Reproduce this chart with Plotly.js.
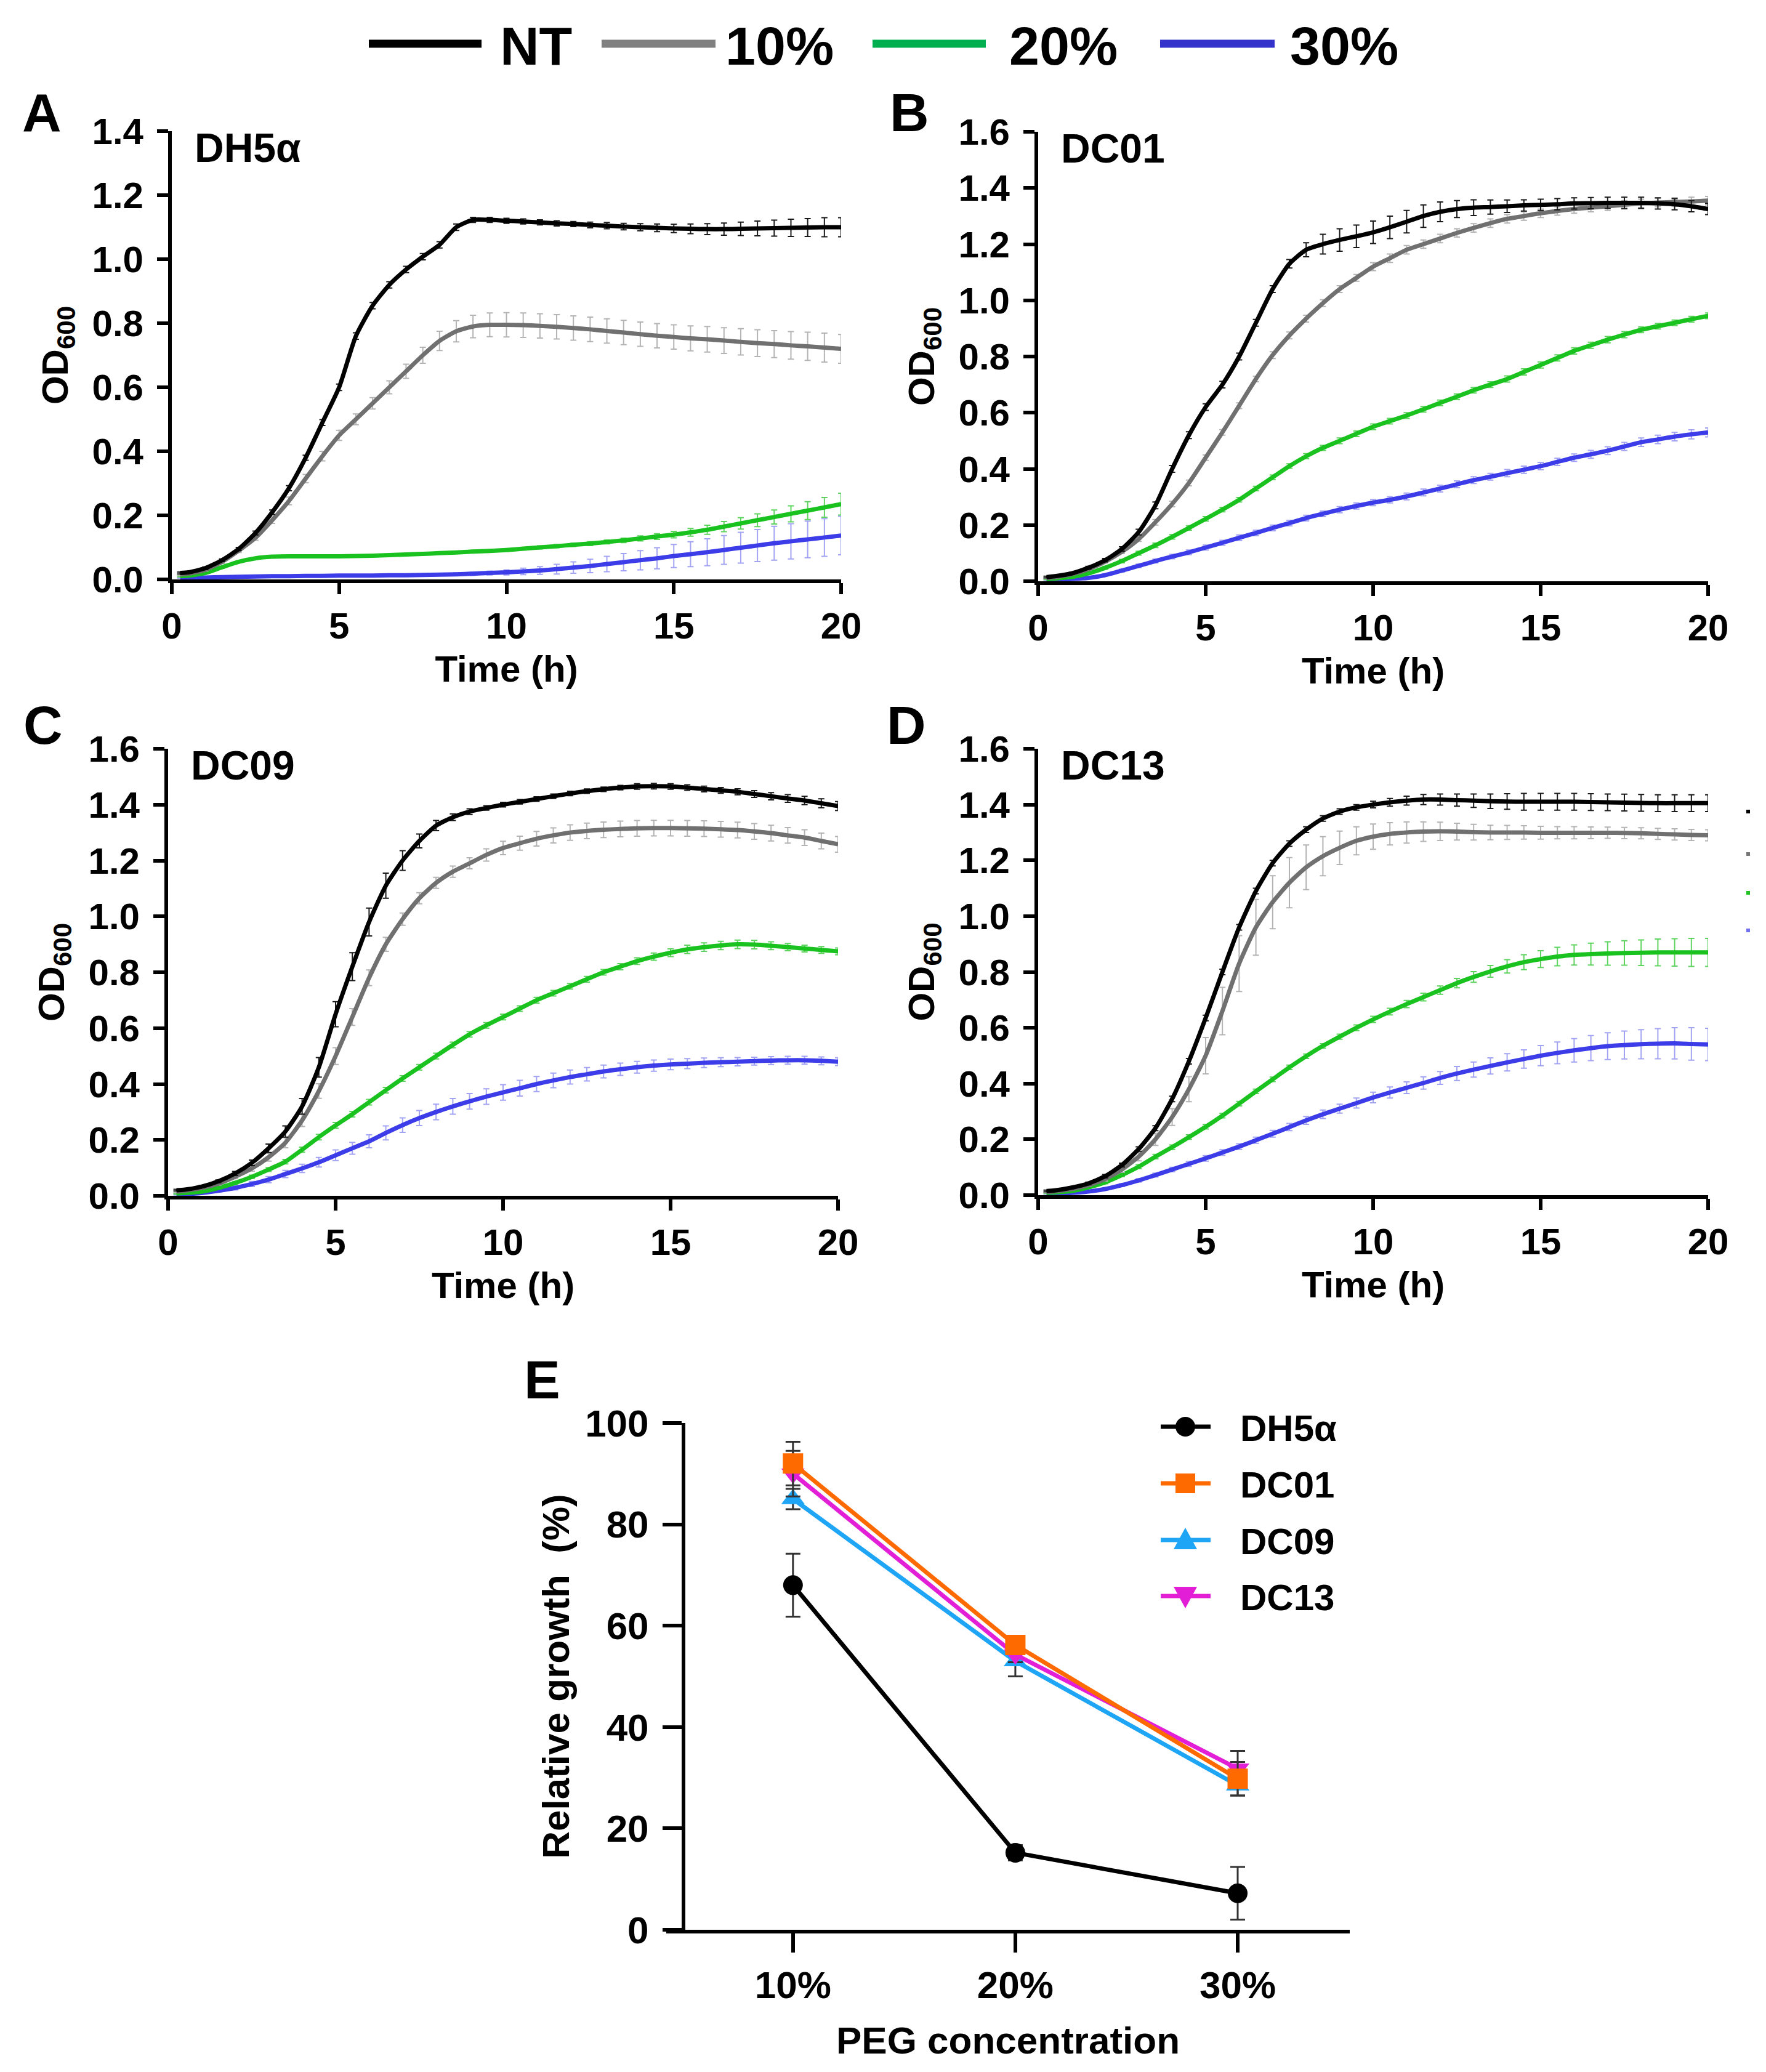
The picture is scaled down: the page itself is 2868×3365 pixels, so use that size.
<!DOCTYPE html>
<html>
<head>
<meta charset="utf-8">
<script src="https://cdn.plot.ly/plotly-3.0.1.min.js"></script>
<style>
  html, body { margin: 0; padding: 0; background: #fff; }
  #chart { width: 2868px; height: 3365px; }
</style>
</head>
<body>
<div id="chart"></div>
<script>
// ─── Data ────────────────────────────────────────────────────────────────────

const TIME = [0.25, 0.5, 1, 1.5, 2, 2.5, 3, 3.5, 4, 4.5, 5, 5.5, 6, 6.5, 7, 7.5, 8, 8.5, 9, 9.5,
  10, 10.5, 11, 11.5, 12, 12.5, 13, 13.5, 14, 14.5, 15, 15.5, 16, 16.5, 17, 17.5, 18, 18.5, 19, 19.5, 20];

const SERIES_NAMES = ['NT', '10%', '20%', '30%'];

// Panel A — DH5α
const A_NT  = [0.020,0.022,0.035,0.060,0.095,0.145,0.210,0.285,0.380,0.490,0.600,0.760,0.855,0.920,0.968,1.008,1.045,1.100,1.123,1.123,
  1.120,1.118,1.115,1.112,1.110,1.107,1.105,1.102,1.100,1.098,1.096,1.095,1.094,1.094,1.095,1.096,1.097,1.098,1.099,1.100,1.100];
const A_10  = [0.015,0.018,0.030,0.055,0.090,0.130,0.185,0.245,0.315,0.385,0.450,0.500,0.550,0.600,0.650,0.700,0.745,0.775,0.790,0.795,
  0.795,0.794,0.792,0.789,0.785,0.781,0.776,0.771,0.766,0.761,0.757,0.753,0.750,0.746,0.742,0.738,0.735,0.731,0.728,0.724,0.720];
const A_20  = [0.010,0.012,0.020,0.038,0.055,0.066,0.071,0.072,0.072,0.072,0.072,0.073,0.074,0.076,0.078,0.080,0.082,0.084,0.087,0.089,
  0.092,0.096,0.100,0.104,0.108,0.112,0.117,0.122,0.128,0.134,0.140,0.147,0.155,0.165,0.175,0.185,0.195,0.205,0.215,0.225,0.235];
const A_30  = [0.005,0.005,0.006,0.007,0.008,0.009,0.010,0.010,0.011,0.011,0.012,0.012,0.012,0.013,0.013,0.014,0.015,0.016,0.018,0.020,
  0.022,0.025,0.028,0.032,0.037,0.042,0.048,0.054,0.060,0.066,0.073,0.079,0.085,0.092,0.099,0.106,0.113,0.119,0.125,0.131,0.137];
const A_NT_SD = [0.003,0.003,0.004,0.004,0.005,0.006,0.007,0.008,0.008,0.009,0.010,0.010,0.010,0.010,0.010,0.010,0.010,0.010,0.008,0.008,
  0.008,0.008,0.008,0.008,0.008,0.009,0.010,0.010,0.011,0.012,0.013,0.015,0.017,0.019,0.021,0.023,0.025,0.027,0.028,0.030,0.030];
const A_10_SD = [0.003,0.003,0.004,0.005,0.006,0.008,0.010,0.012,0.013,0.015,0.016,0.017,0.018,0.020,0.022,0.025,0.030,0.033,0.035,0.037,
  0.038,0.038,0.038,0.038,0.038,0.038,0.038,0.038,0.038,0.038,0.038,0.039,0.040,0.040,0.041,0.042,0.042,0.043,0.044,0.045,0.045];
const A_20_SD = [0.002,0.002,0.002,0.003,0.003,0.003,0.003,0.003,0.003,0.003,0.003,0.003,0.003,0.003,0.003,0.003,0.003,0.003,0.004,0.004,
  0.004,0.004,0.005,0.005,0.005,0.006,0.006,0.007,0.008,0.009,0.010,0.012,0.014,0.016,0.018,0.020,0.022,0.025,0.028,0.031,0.034];
const A_30_SD = [0.001,0.001,0.001,0.001,0.001,0.001,0.002,0.002,0.002,0.002,0.002,0.002,0.002,0.002,0.002,0.003,0.003,0.004,0.005,0.006,
  0.008,0.010,0.012,0.015,0.018,0.021,0.024,0.027,0.030,0.033,0.036,0.039,0.042,0.045,0.048,0.050,0.053,0.055,0.057,0.059,0.060];

// Panel B — DC01
const B_NT  = [0.015,0.018,0.028,0.048,0.075,0.115,0.175,0.270,0.400,0.520,0.620,0.700,0.800,0.920,1.040,1.130,1.180,1.200,1.215,1.228,
  1.242,1.260,1.280,1.300,1.315,1.325,1.330,1.332,1.335,1.338,1.340,1.342,1.345,1.346,1.347,1.347,1.347,1.345,1.342,1.335,1.325];
const B_10  = [0.012,0.015,0.025,0.043,0.070,0.105,0.150,0.210,0.275,0.350,0.440,0.530,0.625,0.720,0.805,0.875,0.935,0.990,1.040,1.080,
  1.120,1.150,1.180,1.200,1.220,1.240,1.258,1.275,1.290,1.300,1.310,1.318,1.325,1.330,1.335,1.340,1.345,1.348,1.350,1.352,1.355];
const B_20  = [0.008,0.010,0.015,0.028,0.048,0.072,0.100,0.128,0.158,0.190,0.222,0.255,0.290,0.330,0.370,0.410,0.445,0.475,0.500,0.525,
  0.550,0.570,0.590,0.612,0.635,0.657,0.680,0.700,0.720,0.745,0.770,0.795,0.820,0.840,0.860,0.878,0.895,0.908,0.920,0.933,0.945];
const B_30  = [0.005,0.006,0.008,0.012,0.022,0.038,0.055,0.072,0.088,0.103,0.120,0.137,0.155,0.172,0.190,0.207,0.225,0.240,0.255,0.268,
  0.280,0.290,0.302,0.316,0.330,0.345,0.360,0.372,0.385,0.397,0.410,0.425,0.440,0.452,0.465,0.480,0.495,0.505,0.515,0.523,0.530];
const B_NT_SD = [0.003,0.003,0.004,0.005,0.006,0.008,0.010,0.012,0.012,0.012,0.012,0.012,0.012,0.012,0.012,0.015,0.025,0.035,0.040,0.040,
  0.040,0.040,0.040,0.040,0.035,0.030,0.028,0.025,0.022,0.020,0.020,0.020,0.020,0.020,0.020,0.020,0.020,0.020,0.020,0.020,0.020];
const B_10_SD = [0.002,0.002,0.003,0.004,0.005,0.006,0.008,0.010,0.010,0.010,0.010,0.010,0.010,0.010,0.012,0.012,0.012,0.012,0.012,0.012,
  0.014,0.015,0.015,0.015,0.015,0.015,0.015,0.015,0.015,0.015,0.015,0.015,0.015,0.015,0.015,0.015,0.015,0.015,0.015,0.015,0.015];
const B_20_SD = [0.002,0.002,0.003,0.004,0.005,0.006,0.007,0.008,0.008,0.008,0.008,0.008,0.008,0.008,0.008,0.008,0.009,0.009,0.010,0.010,
  0.010,0.010,0.010,0.010,0.010,0.010,0.010,0.010,0.011,0.011,0.011,0.011,0.011,0.011,0.011,0.011,0.010,0.010,0.010,0.010,0.010];
const B_30_SD = [0.001,0.001,0.002,0.003,0.004,0.005,0.006,0.007,0.008,0.008,0.009,0.009,0.010,0.010,0.010,0.010,0.010,0.010,0.011,0.011,
  0.011,0.011,0.012,0.012,0.012,0.012,0.012,0.012,0.013,0.013,0.013,0.013,0.013,0.014,0.014,0.014,0.015,0.015,0.015,0.016,0.016];

// Panel C — DC09
const C_NT  = [0.020,0.022,0.033,0.052,0.080,0.118,0.170,0.230,0.320,0.460,0.650,0.820,0.980,1.110,1.200,1.270,1.325,1.355,1.375,1.388,
  1.400,1.410,1.420,1.430,1.440,1.448,1.455,1.461,1.465,1.466,1.465,1.461,1.456,1.451,1.446,1.438,1.430,1.422,1.415,1.405,1.395];
const C_10  = [0.015,0.018,0.028,0.043,0.068,0.098,0.138,0.190,0.270,0.375,0.500,0.640,0.780,0.900,0.990,1.065,1.120,1.160,1.190,1.220,
  1.245,1.262,1.278,1.290,1.300,1.306,1.310,1.313,1.315,1.316,1.316,1.315,1.314,1.312,1.309,1.304,1.298,1.290,1.282,1.270,1.258];
const C_20  = [0.008,0.010,0.015,0.028,0.046,0.068,0.094,0.122,0.165,0.210,0.252,0.292,0.335,0.378,0.420,0.460,0.500,0.540,0.578,0.610,
  0.640,0.670,0.700,0.725,0.750,0.775,0.800,0.820,0.840,0.856,0.870,0.882,0.890,0.896,0.900,0.899,0.895,0.890,0.885,0.880,0.875];
const C_30  = [0.005,0.006,0.010,0.018,0.028,0.042,0.058,0.078,0.098,0.120,0.145,0.170,0.195,0.225,0.253,0.278,0.300,0.320,0.338,0.355,
  0.370,0.385,0.400,0.413,0.425,0.435,0.445,0.453,0.460,0.466,0.470,0.473,0.476,0.478,0.480,0.482,0.484,0.485,0.485,0.483,0.480];
const C_NT_SD = [0.003,0.003,0.004,0.005,0.007,0.010,0.015,0.020,0.028,0.035,0.045,0.050,0.050,0.045,0.035,0.025,0.018,0.012,0.010,0.008,
  0.008,0.008,0.008,0.008,0.008,0.008,0.008,0.008,0.010,0.010,0.010,0.010,0.010,0.010,0.011,0.012,0.013,0.014,0.015,0.016,0.016];
const C_10_SD = [0.003,0.003,0.004,0.005,0.007,0.010,0.014,0.018,0.022,0.026,0.030,0.030,0.028,0.025,0.022,0.020,0.020,0.020,0.020,0.022,
  0.024,0.025,0.026,0.027,0.028,0.028,0.028,0.028,0.028,0.028,0.028,0.028,0.028,0.028,0.028,0.028,0.028,0.028,0.028,0.028,0.028];
const C_20_SD = [0.002,0.002,0.003,0.004,0.005,0.006,0.007,0.008,0.009,0.010,0.010,0.010,0.010,0.010,0.010,0.010,0.010,0.010,0.010,0.010,
  0.010,0.010,0.010,0.010,0.010,0.010,0.010,0.011,0.012,0.013,0.014,0.015,0.015,0.015,0.015,0.015,0.014,0.013,0.012,0.012,0.012];
const C_30_SD = [0.002,0.002,0.003,0.005,0.007,0.009,0.011,0.013,0.015,0.017,0.019,0.021,0.023,0.025,0.026,0.027,0.028,0.028,0.028,0.028,
  0.028,0.028,0.027,0.026,0.025,0.024,0.023,0.022,0.021,0.020,0.019,0.018,0.017,0.016,0.015,0.014,0.014,0.014,0.014,0.014,0.014];

// Panel D — DC13
const D_NT  = [0.015,0.017,0.027,0.042,0.068,0.108,0.165,0.240,0.345,0.480,0.635,0.800,0.960,1.090,1.190,1.260,1.310,1.350,1.375,1.390,
  1.400,1.408,1.414,1.418,1.418,1.416,1.414,1.412,1.411,1.410,1.410,1.410,1.410,1.409,1.408,1.407,1.406,1.405,1.405,1.405,1.405];
const D_10  = [0.012,0.014,0.022,0.036,0.058,0.092,0.138,0.200,0.280,0.380,0.500,0.660,0.830,0.960,1.050,1.120,1.175,1.215,1.245,1.270,
  1.285,1.295,1.300,1.303,1.304,1.303,1.301,1.300,1.300,1.300,1.299,1.299,1.299,1.299,1.299,1.298,1.297,1.295,1.293,1.291,1.290];
const D_20  = [0.008,0.010,0.015,0.028,0.046,0.072,0.102,0.138,0.172,0.208,0.245,0.285,0.328,0.372,0.415,0.458,0.498,0.535,0.568,0.600,
  0.630,0.658,0.685,0.710,0.735,0.760,0.782,0.802,0.820,0.835,0.846,0.855,0.861,0.864,0.866,0.868,0.869,0.870,0.870,0.870,0.870];
const D_30  = [0.005,0.006,0.008,0.013,0.022,0.036,0.053,0.072,0.092,0.112,0.132,0.153,0.174,0.197,0.220,0.244,0.268,0.290,0.310,0.330,
  0.350,0.368,0.385,0.402,0.420,0.436,0.450,0.463,0.476,0.488,0.500,0.510,0.519,0.527,0.534,0.538,0.541,0.543,0.544,0.542,0.540];
const D_NT_SD = [0.003,0.003,0.004,0.005,0.006,0.007,0.008,0.009,0.010,0.010,0.010,0.010,0.010,0.010,0.010,0.010,0.010,0.010,0.010,0.010,
  0.012,0.014,0.016,0.018,0.020,0.022,0.024,0.026,0.028,0.030,0.030,0.030,0.030,0.030,0.030,0.030,0.030,0.030,0.030,0.030,0.030];
const D_10_SD = [0.003,0.003,0.004,0.005,0.007,0.010,0.015,0.022,0.030,0.045,0.065,0.085,0.100,0.100,0.095,0.090,0.080,0.070,0.060,0.050,
  0.045,0.040,0.038,0.035,0.033,0.030,0.028,0.026,0.025,0.024,0.023,0.022,0.022,0.021,0.020,0.020,0.020,0.020,0.020,0.020,0.020];
const D_20_SD = [0.002,0.002,0.003,0.004,0.005,0.006,0.007,0.008,0.008,0.008,0.008,0.008,0.008,0.008,0.008,0.008,0.008,0.008,0.009,0.010,
  0.011,0.012,0.013,0.014,0.015,0.017,0.019,0.021,0.024,0.027,0.030,0.033,0.036,0.039,0.042,0.044,0.046,0.048,0.049,0.050,0.050];
const D_30_SD = [0.001,0.001,0.002,0.003,0.004,0.005,0.006,0.007,0.008,0.009,0.010,0.010,0.010,0.011,0.012,0.013,0.014,0.015,0.016,0.018,
  0.019,0.020,0.021,0.022,0.023,0.025,0.027,0.029,0.031,0.033,0.036,0.039,0.042,0.045,0.048,0.050,0.052,0.054,0.056,0.058,0.058];

// Panel E — relative growth
const PEG_CONC = ['10%', '20%', '30%'];
const STRAINS  = ['DH5α', 'DC01', 'DC09', 'DC13'];
const E_DH5A = [68.0, 15.2, 7.2];
const E_DC01 = [92.0, 56.2, 29.8];
const E_DC09 = [85.0, 53.0, 28.5];
const E_DC13 = [90.0, 54.3, 31.8];
const E_DH5A_SD = [6.2, 1.5, 5.2];
const E_DC01_SD = [4.3, 1.5, 3.3];
const E_DC09_SD = [2.0, 3.0, 2.0];
const E_DC13_SD = [4.5, 1.5, 3.5];

// ─── Styles ──────────────────────────────────────────────────────────────────

const W = 2868, H = 3365;
const FONT = 'Liberation Sans, Arial, Helvetica, sans-serif';

const LINE_COLORS = ['#000000', '#707070', '#19c21e', '#3c3ce8'];
const ERR_COLORS  = ['#1a1a1a', '#b4b4b4', '#5fd35f', '#a3a3f3'];
const KEY_COLORS  = ['#000000', '#808080', '#00b050', '#3333cc'];

const E_COLORS  = ['#000000', '#ff6a00', '#1ea5f5', '#e21ed6'];
const E_SYMBOLS = ['circle', 'square', 'triangle-up', 'triangle-down'];

const px = (x) => x / W;
const py = (y) => 1 - y / H;

const PANELS = [
  { letter: 'A', strain: 'DH5α', box: [279, 1366, 213, 941],   ymax: 1.4, letterAt: [68, 182],
    ys: [A_NT, A_10, A_20, A_30], sd: [A_NT_SD, A_10_SD, A_20_SD, A_30_SD] },
  { letter: 'B', strain: 'DC01', box: [1686, 2774, 214, 944],  ymax: 1.6, letterAt: [1477, 182],
    ys: [B_NT, B_10, B_20, B_30], sd: [B_NT_SD, B_10_SD, B_20_SD, B_30_SD] },
  { letter: 'C', strain: 'DC09', box: [273, 1361, 1216, 1942], ymax: 1.6, letterAt: [70, 1177],
    ys: [C_NT, C_10, C_20, C_30], sd: [C_NT_SD, C_10_SD, C_20_SD, C_30_SD] },
  { letter: 'D', strain: 'DC13', box: [1686, 2774, 1216, 1941], ymax: 1.6, letterAt: [1472, 1177],
    ys: [D_NT, D_10, D_20, D_30], sd: [D_NT_SD, D_10_SD, D_20_SD, D_30_SD] },
];

const E_BOX = { x0: 1082, x1: 2192, yAxisAt: 1110, top: 2311, bottom: 3134 };

// ─── Build ───────────────────────────────────────────────────────────────────

const traces = [];
const layout = {
  width: W, height: H,
  margin: { l: 0, r: 0, t: 0, b: 0 },
  paper_bgcolor: '#fff', plot_bgcolor: 'rgba(0,0,0,0)',
  font: { family: FONT, size: 60, color: '#000', weight: 'bold' },
  showlegend: false,
  shapes: [], annotations: [],
};

function _axisBase(size, ticklen) {
  return {
    showline: true, linewidth: 6, linecolor: '#000',
    ticks: 'outside', ticklen: ticklen, tickwidth: 6, tickcolor: '#000',
    showgrid: false, zeroline: false, fixedrange: true,
    tickfont: { family: FONT, size: size, color: '#000', weight: 'bold' },
  };
}

function _addText(text, x, y, size, xanchor) {
  layout.annotations.push({
    text: text, xref: 'paper', yref: 'paper', x: px(x), y: py(y),
    xanchor: xanchor ?? 'center', yanchor: 'middle', showarrow: false,
    font: { family: FONT, size: size, color: '#000', weight: 'bold' },
  });
}

PANELS.forEach((p, i) => {
  const n = i + 1;
  const [x0, x1, y0, y1] = p.box;

  layout['xaxis' + n] = {
    ..._axisBase(60, 18), domain: [px(x0), px(x1)], anchor: 'y' + n,
    range: [0, 20], tickvals: [0, 5, 10, 15, 20], ticklabelstandoff: 0,
    title: { text: 'Time (h)', font: { family: FONT, size: 60, weight: 'bold' }, standoff: 18 },
  };
  layout['yaxis' + n] = {
    ..._axisBase(60, 18), domain: [py(y1), py(y0)], anchor: 'x' + n,
    range: [0, p.ymax], dtick: 0.2, tickformat: '.1f', ticklabelstandoff: 10,
    title: { text: 'OD<sub>600</sub>', font: { family: FONT, size: 60, weight: 'bold' }, standoff: 22 },
  };

  // 30% first so that NT ends up on top
  [3, 2, 1, 0].forEach((k) => {
    traces.push({
      type: 'scatter', mode: 'lines', name: SERIES_NAMES[k],
      x: TIME, y: p.ys[k], xaxis: 'x' + n, yaxis: 'y' + n,
      line: { color: LINE_COLORS[k], width: 7, shape: 'spline', smoothing: 0.6 },
      error_y: { type: 'data', array: p.sd[k], visible: true, color: ERR_COLORS[k], thickness: 2, width: 5 },
      cliponaxis: false, hoverinfo: 'skip',
    });
  });

  layout.annotations.push({
    text: p.strain, xref: 'x' + n + ' domain', yref: 'y' + n + ' domain',
    x: 0.032, y: 0.963, xanchor: 'left', yanchor: 'middle', showarrow: false,
    font: { family: FONT, size: 66, color: '#000', weight: 'bold' },
  });
  _addText(p.letter, p.letterAt[0], p.letterAt[1], 88);
});

// Panel E
layout.xaxis5 = {
  ..._axisBase(62, 31), type: 'category', domain: [px(E_BOX.x0), px(E_BOX.x1)], anchor: 'y5',
  range: [-0.57, 2.504], ticklabelstandoff: 0,
  title: { text: 'PEG concentration', font: { family: FONT, size: 62, weight: 'bold' }, standoff: 36 },
};
layout.yaxis5 = {
  ..._axisBase(62, 31), domain: [py(E_BOX.bottom), py(E_BOX.top)], anchor: 'free', position: px(E_BOX.yAxisAt),
  range: [0, 100], dtick: 20, ticklabelstandoff: 10,
  title: { text: 'Relative growth\u00a0 (%)', font: { family: FONT, size: 62, weight: 'bold' }, standoff: 4 },
};

const E_VALUES = [E_DH5A, E_DC01, E_DC09, E_DC13];
const E_SD     = [E_DH5A_SD, E_DC01_SD, E_DC09_SD, E_DC13_SD];
[0, 2, 3, 1].forEach((k) => {
  traces.push({
    type: 'scatter', mode: 'lines+markers', name: STRAINS[k],
    x: PEG_CONC, y: E_VALUES[k], xaxis: 'x5', yaxis: 'y5',
    line: { color: E_COLORS[k], width: 7 },
    marker: { symbol: E_SYMBOLS[k], size: k === 0 ? 32 : 33, color: E_COLORS[k] },
    error_y: { type: 'data', array: E_SD[k], visible: true, color: '#333', thickness: 3, width: 12 },
    cliponaxis: false, hoverinfo: 'skip',
  });
});
_addText('E', 880, 2240, 88);

// ─── Legends ─────────────────────────────────────────────────────────────────

// top legend for A–D
const KEY_LINES = [[599, 782, 810], [977, 1162, 1176], [1417, 1601, 1637], [1884, 2070, 2093]];
SERIES_NAMES.forEach((name, k) => {
  const [l0, l1, tx] = KEY_LINES[k];
  layout.shapes.push({
    type: 'line', xref: 'paper', yref: 'paper', x0: px(l0), x1: px(l1), y0: py(71), y1: py(71),
    line: { color: KEY_COLORS[k], width: 13 },
  });
  _addText(name, tx, 74, 88, 'left');
});

// legend for E
const E_KEY_ROWS = [2317, 2409, 2501, 2592];
STRAINS.forEach((name, k) => {
  const yy = E_KEY_ROWS[k];
  const cx = 1925, r = 16;
  layout.shapes.push({
    type: 'line', xref: 'paper', yref: 'paper', x0: px(1885), x1: px(1966), y0: py(yy), y1: py(yy),
    line: { color: E_COLORS[k], width: 7 },
  });
  const fill = { fillcolor: E_COLORS[k], line: { width: 0 }, xref: 'paper', yref: 'paper' };
  if (k === 0) {
    layout.shapes.push({ ...fill, type: 'circle', x0: px(cx - r), x1: px(cx + r), y0: py(yy + r), y1: py(yy - r) });
  } else if (k === 1) {
    layout.shapes.push({ ...fill, type: 'rect', x0: px(cx - r), x1: px(cx + r), y0: py(yy + r), y1: py(yy - r) });
  } else {
    const s = k === 2 ? 1 : -1;
    const tip = yy - s * 20, base = yy + s * 15;
    layout.shapes.push({ ...fill, type: 'path',
      path: `M${px(cx)},${py(tip)} L${px(cx + 19)},${py(base)} L${px(cx - 19)},${py(base)} Z` });
  }
  _addText(name, 2012, yy + 2, 60, 'left');
});

// clipped key marks at the right edge of panel D
[[1318, '#000'], [1387, '#777'], [1450, '#1ec21e'], [1511, '#7070f0']].forEach(([yy, c]) => {
  layout.shapes.push({
    type: 'rect', xref: 'paper', yref: 'paper', x0: px(2836), x1: px(2842), y0: py(yy + 3), y1: py(yy - 3),
    fillcolor: c, line: { width: 0 },
  });
});

Plotly.newPlot('chart', traces, layout, { staticPlot: true, displayModeBar: false });
</script>
</body>
</html>
